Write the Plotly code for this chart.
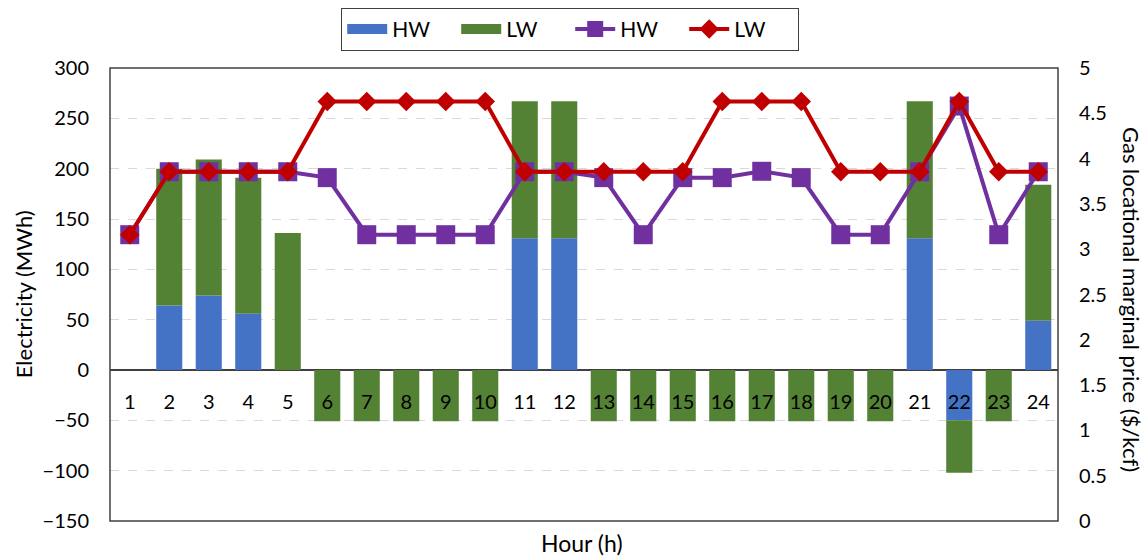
import plotly.graph_objects as go

# Hourly data
hours = list(range(1, 25))
elec_hw = [0, 64, 74, 56, 0, 0, 0, 0, 0, 0, 131, 131,
           0, 0, 0, 0, 0, 0, 0, 0, 131, -50, 0, 49]
elec_lw = [0, 136, 135, 135, 136, -51, -51, -51, -51, -51, 136, 136,
           -51, -51, -51, -51, -51, -51, -51, -51, 136, -52, -51, 135]
price_hw = [3.16, 3.855, 3.855, 3.855, 3.855, 3.79, 3.16, 3.16, 3.16, 3.16, 3.855, 3.855,
            3.79, 3.16, 3.79, 3.79, 3.86, 3.79, 3.16, 3.16, 3.855, 4.58, 3.16, 3.855]
price_lw = [3.16, 3.855, 3.855, 3.855, 3.855, 4.63, 4.63, 4.63, 4.63, 4.63, 3.855, 3.855,
            3.855, 3.855, 3.855, 4.63, 4.63, 4.63, 3.855, 3.855, 3.855, 4.63, 3.855, 3.855]

left_ticks = [-150, -100, -50, 0, 50, 100, 150, 200, 250, 300]
right_ticks = [0, 0.5, 1, 1.5, 2, 2.5, 3, 3.5, 4, 4.5, 5]
right_labels = ["0", "0.5", "1", "1.5", "2", "2.5", "3", "3.5", "4", "4.5", "5"]

FONT = "Lato"
TXT = "#000000"
BLUE, GREEN, PURPLE, RED = "#4472C4", "#548235", "#7030A0", "#C00000"

fig = go.Figure()
fig.add_trace(go.Bar(x=hours, y=elec_hw, name="HW", marker_color=BLUE,
                     marker_line_width=0, showlegend=False))
fig.add_trace(go.Bar(x=hours, y=elec_lw, name="LW", marker_color=GREEN,
                     marker_line_width=0, showlegend=False))
# wide swatches for the bar series in the legend
fig.add_trace(go.Scatter(x=[None], y=[None], name="HW", mode="lines",
                         line=dict(color=BLUE, width=14)))
fig.add_trace(go.Scatter(x=[None], y=[None], name="LW", mode="lines",
                         line=dict(color=GREEN, width=14)))
fig.add_trace(go.Scatter(x=hours, y=price_hw, name="HW", yaxis="y2",
                         mode="lines+markers",
                         line=dict(color=PURPLE, width=4),
                         marker=dict(symbol="square", size=19, color=PURPLE)))
fig.add_trace(go.Scatter(x=hours, y=price_lw, name="LW", yaxis="y2",
                         mode="lines+markers",
                         line=dict(color=RED, width=4),
                         marker=dict(symbol="diamond", size=15, color=RED)))

fig.update_layout(
    width=1145, height=558,
    margin=dict(l=110, r=87, t=68, b=37, autoexpand=False),
    plot_bgcolor="white", paper_bgcolor="white",
    barmode="relative", bargap=0.34,
    font=dict(family=FONT, size=20, color=TXT),
    showlegend=True,
    legend=dict(orientation="h", xref="container", yref="container",
                x=0.498, xanchor="center", y=0.986, yanchor="top",
                bordercolor="#404040", borderwidth=1, itemwidth=40,
                entrywidth=59, entrywidthmode="pixels",
                font=dict(size=21, family=FONT), bgcolor="white"),
    xaxis=dict(range=[0.5, 24.5], tickmode="array", tickvals=hours,
               ticktext=[str(h) for h in hours],
               anchor="free", position=1/3, showline=False, showgrid=False,
               zeroline=False, ticks="outside", ticklen=14,
               tickcolor="rgba(0,0,0,0)", tickfont=dict(size=20)),
    yaxis=dict(range=[-150, 300], tickvals=left_ticks, showgrid=True,
               gridcolor="#D9D9D9", griddash="dash", gridwidth=1,
               zeroline=True, zerolinecolor="#404040", zerolinewidth=1.5,
               showline=False, ticks="outside", ticklen=16,
               tickcolor="rgba(0,0,0,0)", tickfont=dict(size=20)),
    yaxis2=dict(range=[0, 5], overlaying="y", side="right", tickvals=right_ticks,
                ticktext=right_labels, showgrid=False, zeroline=False,
                showline=False, ticks="outside", ticklen=16,
                tickcolor="rgba(0,0,0,0)", tickfont=dict(size=20)),
    shapes=[dict(type="rect", xref="paper", yref="paper", x0=0, x1=1, y0=0, y1=1,
                 line=dict(color="#404040", width=1.5), layer="above")],
    annotations=[
        dict(text="Hour (h)", xref="paper", yref="paper", x=0.498, y=-0.048,
             xanchor="center", yanchor="middle", showarrow=False,
             font=dict(size=23, family=FONT)),
        dict(text="Electricity (MWh)", xref="paper", yref="paper", x=-0.091, y=0.5,
             xanchor="center", yanchor="middle", textangle=-90, showarrow=False,
             font=dict(size=22, family=FONT)),
        dict(text="Gas locational marginal price ($/kcf)", xref="paper", yref="paper",
             x=1.077, y=0.488, xanchor="center", yanchor="middle", textangle=90,
             showarrow=False, font=dict(size=22, family=FONT)),
    ],
)

fig.write_html("out.html")
